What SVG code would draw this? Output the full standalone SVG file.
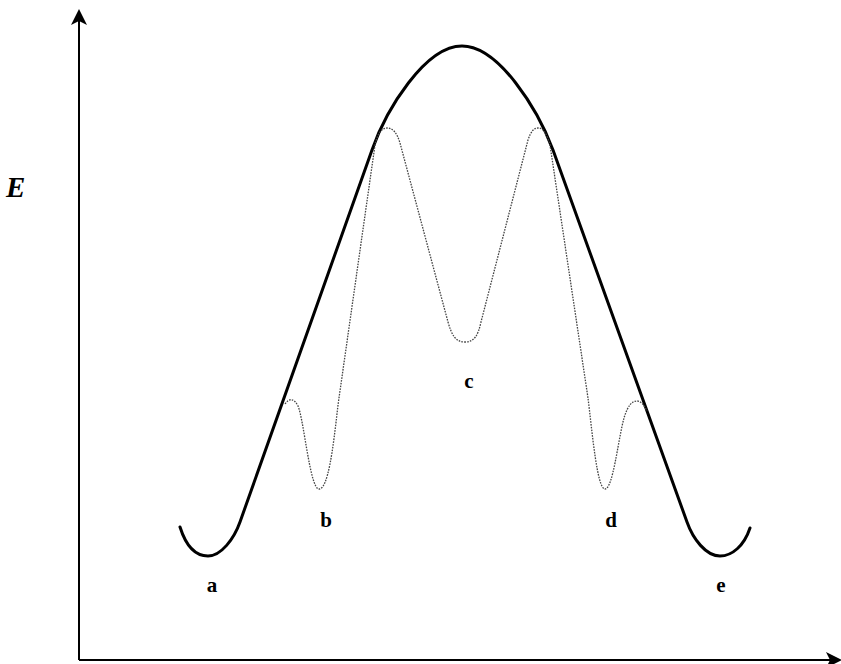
<svg xmlns="http://www.w3.org/2000/svg" width="841" height="664" viewBox="0 0 841 664">
<style>
.axis{stroke:#000;stroke-width:2;fill:none}
.solid{stroke:#000;stroke-width:3;fill:none;stroke-linecap:round;stroke-linejoin:round}
.dash{stroke:#444;stroke-width:1.3;fill:none;stroke-dasharray:1.6 1.2}
.lbl{font-family:"Liberation Serif",serif;font-weight:bold;font-size:21px;fill:#000;text-anchor:middle}
.axlbl{font-family:"Liberation Serif",serif;font-weight:bold;font-style:italic;font-size:29px;fill:#000}
</style>
<rect width="841" height="664" fill="#fff"/>
<g id="axes">
<path class="axis" d="M79,660 L79,20"/>
<path d="M79,9 L87,25 L79,21 L71,25 Z" fill="#000"/>
<path class="axis" d="M79,660 L832,660"/>
<path d="M842,660 L826,652 L830,660 L826,668 Z" fill="#000"/>
</g>
<g id="curves">
<path id="solid-curve" class="solid" d="M180,527 C186,546 196,556 208,556 C221,556 234,539 240,522 L372,150 C386,110 425,46 462,46 C499,46 538,110 553,150 L687,522 C693,539 706,556 720,556 C732,556 744,546 750,528"/>
<path id="dashed-curve" class="dash" d="M285,404 C289,398 294,398 298,406 C304,420 310,489 319,489 C328,489 333,450 338,405 L375,145 C378,131 383,128 387,128 C393,128 397,133 400,143 L448,322 C452,336 456,342 465,342 C474,342 478,336 481,322 L528,140 C531,131 534,128 538,128 C543,128 546,132 550,145 L588,398 C592,430 597,489 605,489 C613,489 618,440 624,418 C628,405 632,401 637,401 C641,401 644,405 647,411"/>
</g>
<g id="labels">
<text class="axlbl" x="6" y="197">E</text>
<text class="lbl" x="212" y="592">a</text>
<text class="lbl" x="326" y="527">b</text>
<text class="lbl" x="469" y="388">c</text>
<text class="lbl" x="611" y="527">d</text>
<text class="lbl" x="721" y="592">e</text>
</g>
</svg>
